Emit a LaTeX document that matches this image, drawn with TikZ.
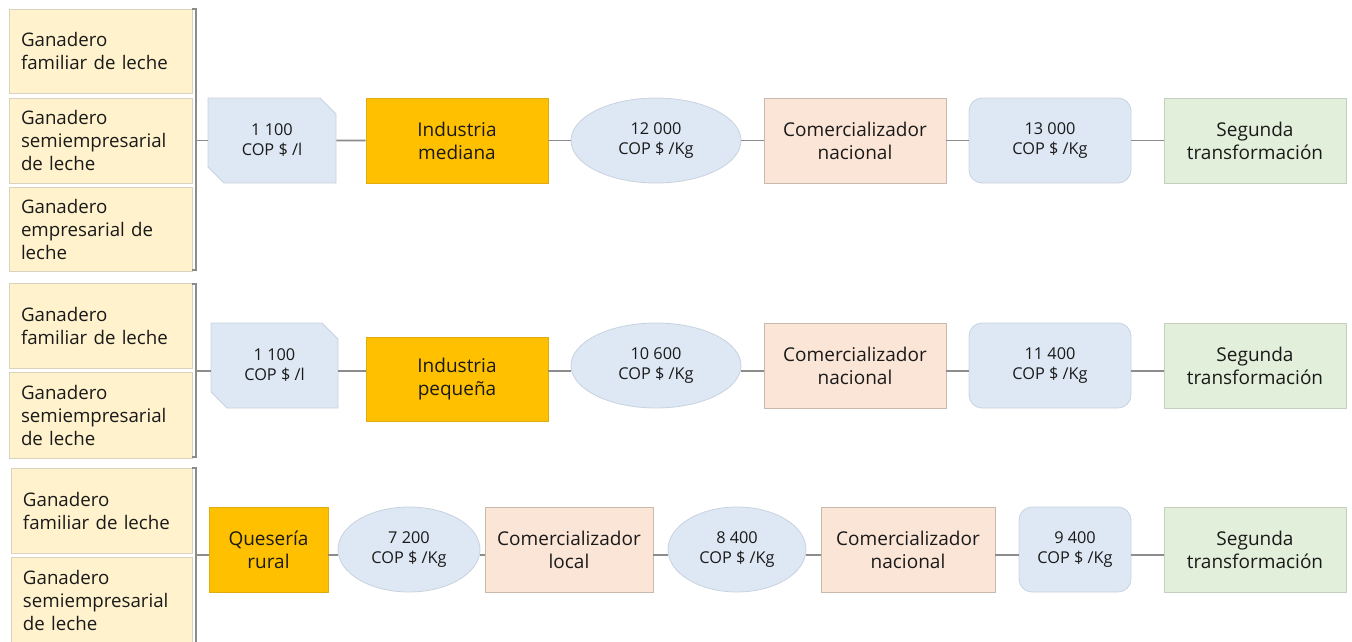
\documentclass[tikz,border=0pt]{standalone}
\usepackage{fontspec}
\setmainfont{Open Sans}
\usetikzlibrary{shapes.geometric,shapes.misc,calc}
\definecolor{gfill}{HTML}{FFF2CC}
\definecolor{gline}{HTML}{D9D2BC}
\definecolor{bfill}{HTML}{DEE8F4}
\definecolor{bline}{HTML}{C8D2DE}
\definecolor{ofill}{HTML}{FFC000}
\definecolor{oline}{HTML}{E0AC10}
\definecolor{pfill}{HTML}{FBE5D6}
\definecolor{pline}{HTML}{C9B8AC}
\definecolor{vfill}{HTML}{E2EFDA}
\definecolor{vline}{HTML}{C4CFBD}
\definecolor{conncol}{HTML}{8C8C8C}
\definecolor{txt}{HTML}{1A1A1A}
\begin{document}
\begin{tikzpicture}[x=1pt,y=-1pt,
  every node/.style={inner sep=0pt, text=txt},
  big/.style={font=\fontsize{19}{23}\selectfont, align=center},
  small/.style={font=\fontsize{16.3}{20}\selectfont, align=center},
  gbox/.style={draw=gline, fill=gfill, line width=0.8pt, font=\fontsize{18.7}{23}\selectfont,
    align=left, text width=159pt, inner xsep=12pt, minimum width=183pt},
  snip/.style={small, chamfered rectangle, chamfered rectangle corners={north east,south west},
    chamfered rectangle sep=8pt, draw=bline, fill=bfill, line width=0.8pt, minimum height=85pt},
  oval/.style={small, ellipse, draw=bline, fill=bfill, line width=0.8pt, minimum height=85pt},
  rbox/.style={small, rectangle, rounded corners=13pt, draw=bline, fill=bfill, line width=0.8pt, minimum height=85pt},
  obox/.style={big, rectangle, draw=oline, fill=ofill, line width=0.8pt, minimum height=85pt},
  pbox/.style={big, rectangle, draw=pline, fill=pfill, line width=0.8pt, minimum height=85pt},
  vbox/.style={big, rectangle, draw=vline, fill=vfill, line width=0.8pt, minimum height=85pt},
  conn/.style={draw=conncol, line width=1.9pt},
  brk/.style={draw=conncol, line width=1.9pt}
]
\useasboundingbox (0,0) rectangle (1352,641);

% ---------- Row 1 ----------
\node[gbox, minimum height=84pt] (g11) at (100.5,51) {Ganadero\\familiar de leche};
\node[gbox, minimum height=85pt] (g12) at (100.5,140.5) {Ganadero\\semiempresarial\\de leche};
\node[gbox, minimum height=84pt] (g13) at (100.5,229) {Ganadero\\empresarial de\\leche};
\coordinate (b1t) at (196,9);
\coordinate (b1b) at (196,270);
\coordinate (b1m) at (196,140.5);
\draw[brk] (192,9) -- (b1t) -- (b1b) -- (192,270);

\node[snip, minimum width=128pt] (p1) at (272,140.5) {1 100\\COP \$ /l};
\node[obox, minimum width=182pt] (i1) at (457,140.5) {Industria\\mediana};
\node[oval, minimum width=170pt] (e1) at (656,140.5) {12 000\\COP \$ /Kg};
\node[pbox, minimum width=182pt] (c1) at (855,140.5) {Comercializador\\nacional};
\node[rbox, minimum width=162pt] (r1) at (1050,140.5) {13 000\\COP \$ /Kg};
\node[vbox, minimum width=182pt] (s1) at (1255,140.5) {Segunda\\transformación};

\draw[conn] (b1m) -- (p1.west);
\draw[conn] (p1) -- (i1);
\draw[conn] (i1) -- (e1);
\draw[conn] (e1) -- (c1);
\draw[conn] (c1) -- (r1);
\draw[conn] (r1) -- (s1);

% ---------- Row 2 ----------
\node[gbox, minimum height=85pt] (g21) at (100.5,325.5) {Ganadero\\familiar de leche};
\node[gbox, minimum height=86pt] (g22) at (100.5,415) {Ganadero\\semiempresarial\\de leche};
\coordinate (b2t) at (196,284);
\coordinate (b2b) at (196,457);
\coordinate (b2m) at (196,371);
\draw[brk] (192,284) -- (b2t) -- (b2b) -- (192,457);

\node[snip, minimum width=127pt] (p2) at (274.5,365.5) {1 100\\COP \$ /l};
\node[obox, minimum width=182pt, minimum height=84pt] (i2) at (457,379) {Industria\\pequeña};
\node[oval, minimum width=170pt] (e2) at (656,365.5) {10 600\\COP \$ /Kg};
\node[pbox, minimum width=182pt] (c2) at (855,365.5) {Comercializador\\nacional};
\node[rbox, minimum width=162pt] (r2) at (1050,365.5) {11 400\\COP \$ /Kg};
\node[vbox, minimum width=182pt] (s2) at (1255,365.5) {Segunda\\transformación};

\draw[conn] (b2m) -- (p2.west |- b2m);
\draw[conn] (p2.east |- b2m) -- (i2.west |- b2m);
\draw[conn] (i2.east |- b2m) -- (e2.west |- b2m);
\draw[conn] (e2.east |- b2m) -- (c2.west |- b2m);
\draw[conn] (c2.east |- b2m) -- (r2.west |- b2m);
\draw[conn] (r2.east |- b2m) -- (s2.west |- b2m);

% ---------- Row 3 ----------
\node[gbox, minimum width=181pt, text width=157pt, minimum height=85pt] (g31) at (101.5,510.5) {Ganadero\\familiar de leche};
\node[gbox, minimum width=181pt, text width=157pt, minimum height=85pt] (g32) at (101.5,600) {Ganadero\\semiempresarial\\de leche};
\coordinate (b3t) at (196,468);
\coordinate (b3b) at (196,645);
\coordinate (b3m) at (196,555);
\draw[brk] (192,468) -- (b3t) -- (b3b);

\node[obox, minimum width=119pt] (q3) at (268.5,549.5) {Quesería\\rural};
\node[oval, minimum width=142pt] (e3) at (409,549.5) {7 200\\COP \$ /Kg};
\node[pbox, minimum width=168pt] (c3) at (569,549.5) {Comercializador\\local};
\node[oval, minimum width=138pt] (f3) at (737,549.5) {8 400\\COP \$ /Kg};
\node[pbox, minimum width=174pt] (d3) at (908,549.5) {Comercializador\\nacional};
\node[rbox, minimum width=112pt] (r3) at (1075,549.5) {9 400\\COP \$ /Kg};
\node[vbox, minimum width=182pt] (s3) at (1255,549.5) {Segunda\\transformación};

\draw[conn] (b3m) -- (q3.west |- b3m);
\draw[conn] (q3.east |- b3m) -- (e3.west |- b3m);
\draw[conn] (e3.east |- b3m) -- (c3.west |- b3m);
\draw[conn] (c3.east |- b3m) -- (f3.west |- b3m);
\draw[conn] (f3.east |- b3m) -- (d3.west |- b3m);
\draw[conn] (d3.east |- b3m) -- (r3.west |- b3m);
\draw[conn] (r3.east |- b3m) -- (s3.west |- b3m);
\end{tikzpicture}
\end{document}
